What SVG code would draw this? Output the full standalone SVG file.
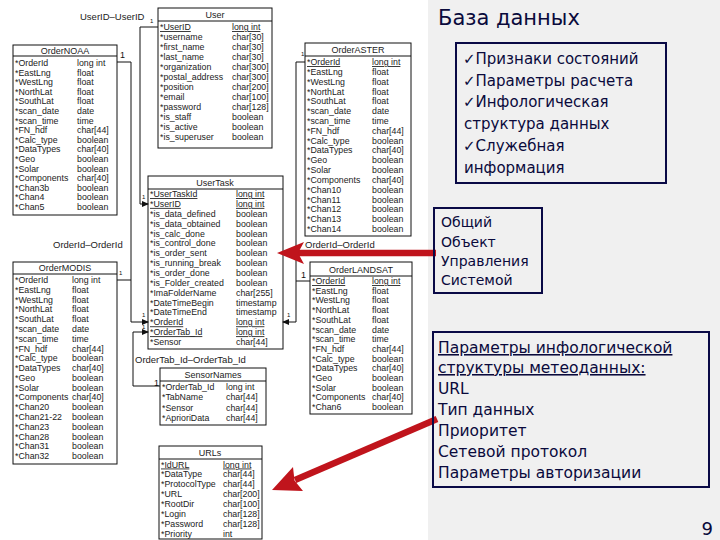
<svg xmlns="http://www.w3.org/2000/svg" width="720" height="540" viewBox="0 0 720 540">
<style>
.tb{fill:#fff;stroke:#111;stroke-width:1}
.ln{stroke:#111;stroke-width:1}
.t{font-family:"Liberation Sans",Arial,sans-serif;font-size:8.8px;fill:#222}
.h{font-family:"Liberation Sans",Arial,sans-serif;font-size:9px;fill:#222;text-anchor:middle}
.u{text-decoration:underline}
.lbl{font-family:"Liberation Sans",Arial,sans-serif;font-size:9.5px;fill:#222}
.one{font-family:"Liberation Sans",Arial,sans-serif;font-size:9px;fill:#111}
.sm{font-family:"Liberation Sans",Arial,sans-serif;font-size:6px;fill:#111}
.con{fill:none;stroke:#111;stroke-width:1}
.rt{font-family:"DejaVu Sans","Noto Sans",sans-serif;fill:#0a0a3c}
.bx{fill:none;stroke:#0a0a46;stroke-width:2}
.red{stroke:#c0141c;stroke-width:6.5;fill:none}
.redh{fill:#c0141c}
</style>
<defs>
<marker id="ah" markerWidth="7" markerHeight="6" refX="6" refY="3" orient="auto" markerUnits="userSpaceOnUse">
<path d="M0,0 L7,3 L0,6 Z" fill="#111"/>
</marker>
</defs>
<rect x="0" y="0" width="720" height="540" fill="#fff"/>
<rect x="428" y="0" width="292" height="540" fill="#f0f0f0"/>

<!-- User -->
<g id="User">
<rect class="tb" x="158" y="8" width="114" height="140"/>
<line class="ln" x1="158" y1="21" x2="272" y2="21"/>
<text class="h" x="215" y="18">User</text>
<g class="t">
<text x="160" y="30" class="u">*UserID</text><text x="232" y="30" class="u">long int</text>
<text x="160" y="40">*username</text><text x="232" y="40">char[30]</text>
<text x="160" y="50">*first_name</text><text x="232" y="50">char[30]</text>
<text x="160" y="60">*last_name</text><text x="232" y="60">char[30]</text>
<text x="160" y="70">*organization</text><text x="232" y="70">char[300]</text>
<text x="160" y="80">*postal_address</text><text x="232" y="80">char[300]</text>
<text x="160" y="90">*position</text><text x="232" y="90">char[200]</text>
<text x="160" y="100">*email</text><text x="232" y="100">char[100]</text>
<text x="160" y="110">*password</text><text x="232" y="110">char[128]</text>
<text x="160" y="120">*is_staff</text><text x="232" y="120">boolean</text>
<text x="160" y="130">*is_active</text><text x="232" y="130">boolean</text>
<text x="160" y="140">*is_superuser</text><text x="232" y="140">boolean</text>
</g>
</g>

<!-- OrderNOAA -->
<g id="OrderNOAA">
<rect class="tb" x="13" y="45" width="104" height="170"/>
<line class="ln" x1="13" y1="56" x2="117" y2="56"/>
<text class="h" x="65" y="54">OrderNOAA</text>
<g class="t">
<text x="15" y="66">*OrderId</text><text x="77" y="66">long int</text>
<text x="15" y="75.6">*EastLng</text><text x="77" y="75.6">float</text>
<text x="15" y="85.2">*WestLng</text><text x="77" y="85.2">float</text>
<text x="15" y="94.8">*NorthLat</text><text x="77" y="94.8">float</text>
<text x="15" y="104.4">*SouthLat</text><text x="77" y="104.4">float</text>
<text x="15" y="114">*scan_date</text><text x="77" y="114">date</text>
<text x="15" y="123.6">*scan_time</text><text x="77" y="123.6">time</text>
<text x="15" y="133.2">*FN_hdf</text><text x="77" y="133.2">char[44]</text>
<text x="15" y="142.8">*Calc_type</text><text x="77" y="142.8">boolean</text>
<text x="15" y="152.4">*DataTypes</text><text x="77" y="152.4">char[40]</text>
<text x="15" y="162">*Geo</text><text x="77" y="162">boolean</text>
<text x="15" y="171.6">*Solar</text><text x="77" y="171.6">boolean</text>
<text x="15" y="181.2">*Components</text><text x="77" y="181.2">char[40]</text>
<text x="15" y="190.8">*Chan3b</text><text x="77" y="190.8">boolean</text>
<text x="15" y="200.4">*Chan4</text><text x="77" y="200.4">boolean</text>
<text x="15" y="210">*Chan5</text><text x="77" y="210">boolean</text>
</g>
</g>

<!-- OrderASTER -->
<g id="OrderASTER">
<rect class="tb" x="305" y="43" width="106" height="193"/>
<line class="ln" x1="305" y1="56" x2="411" y2="56"/>
<text class="h" x="358" y="53">OrderASTER</text>
<g class="t">
<text x="307" y="65" class="u">*OrderId</text><text x="372" y="65" class="u">long int</text>
<text x="307" y="74.8">*EastLng</text><text x="372" y="74.8">float</text>
<text x="307" y="84.6">*WestLng</text><text x="372" y="84.6">float</text>
<text x="307" y="94.5">*NorthLat</text><text x="372" y="94.5">float</text>
<text x="307" y="104.3">*SouthLat</text><text x="372" y="104.3">float</text>
<text x="307" y="114.1">*scan_date</text><text x="372" y="114.1">date</text>
<text x="307" y="123.9">*scan_time</text><text x="372" y="123.9">time</text>
<text x="307" y="133.7">*FN_hdf</text><text x="372" y="133.7">char[44]</text>
<text x="307" y="143.6">*Calc_type</text><text x="372" y="143.6">boolean</text>
<text x="307" y="153.4">*DataTypes</text><text x="372" y="153.4">char[40]</text>
<text x="307" y="163.2">*Geo</text><text x="372" y="163.2">boolean</text>
<text x="307" y="173">*Solar</text><text x="372" y="173">boolean</text>
<text x="307" y="182.8">*Components</text><text x="372" y="182.8">char[40]</text>
<text x="307" y="192.7">*Chan10</text><text x="372" y="192.7">boolean</text>
<text x="307" y="202.5">*Chan11</text><text x="372" y="202.5">boolean</text>
<text x="307" y="212.3">*Chan12</text><text x="372" y="212.3">boolean</text>
<text x="307" y="222.1">*Chan13</text><text x="372" y="222.1">boolean</text>
<text x="307" y="232">*Chan14</text><text x="372" y="232">boolean</text>
</g>
</g>

<!-- UserTask -->
<g id="UserTask">
<rect class="tb" x="148" y="176" width="135" height="173"/>
<line class="ln" x1="148" y1="189" x2="283" y2="189"/>
<text class="h" x="215" y="186">UserTask</text>
<g class="t">
<text x="150" y="197" class="u">*UserTaskId</text><text x="236" y="197" class="u">long int</text>
<text x="150" y="206.9" class="u">*UserID</text><text x="236" y="206.9" class="u">long int</text>
<text x="150" y="216.7">*is_data_defined</text><text x="236" y="216.7">boolean</text>
<text x="150" y="226.6">*is_data_obtained</text><text x="236" y="226.6">boolean</text>
<text x="150" y="236.5">*is_calc_done</text><text x="236" y="236.5">boolean</text>
<text x="150" y="246.4">*is_control_done</text><text x="236" y="246.4">boolean</text>
<text x="150" y="256.2">*is_order_sent</text><text x="236" y="256.2">boolean</text>
<text x="150" y="266.1">*is_running_break</text><text x="236" y="266.1">boolean</text>
<text x="150" y="276">*is_order_done</text><text x="236" y="276">boolean</text>
<text x="150" y="285.8">*is_Folder_created</text><text x="236" y="285.8">boolean</text>
<text x="150" y="295.7">*ImaFolderName</text><text x="236" y="295.7">char[255]</text>
<text x="150" y="305.6">*DateTimeBegin</text><text x="236" y="305.6">timestamp</text>
<text x="150" y="315.4">*DateTimeEnd</text><text x="236" y="315.4">timestamp</text>
<text x="150" y="325.3" class="u">*OrderId</text><text x="236" y="325.3" class="u">long int</text>
<text x="150" y="335.2" class="u">*OrderTab_Id</text><text x="236" y="335.2" class="u">long int</text>
<text x="150" y="345">*Sensor</text><text x="236" y="345">char[44]</text>
</g>
</g>

<!-- OrderMODIS -->
<g id="OrderMODIS">
<rect class="tb" x="13" y="262" width="104" height="202"/>
<line class="ln" x1="13" y1="274" x2="117" y2="274"/>
<text class="h" x="65" y="271">OrderMODIS</text>
<g class="t">
<text x="15" y="283">*OrderId</text><text x="72" y="283">long int</text>
<text x="15" y="292.8">*EastLng</text><text x="72" y="292.8">float</text>
<text x="15" y="302.6">*WestLng</text><text x="72" y="302.6">float</text>
<text x="15" y="312.3">*NorthLat</text><text x="72" y="312.3">float</text>
<text x="15" y="322.1">*SouthLat</text><text x="72" y="322.1">float</text>
<text x="15" y="331.9">*scan_date</text><text x="72" y="331.9">date</text>
<text x="15" y="341.7">*scan_time</text><text x="72" y="341.7">time</text>
<text x="15" y="351.5">*FN_hdf</text><text x="72" y="351.5">char[44]</text>
<text x="15" y="361.2">*Calc_type</text><text x="72" y="361.2">boolean</text>
<text x="15" y="371">*DataTypes</text><text x="72" y="371">char[40]</text>
<text x="15" y="380.8">*Geo</text><text x="72" y="380.8">boolean</text>
<text x="15" y="390.6">*Solar</text><text x="72" y="390.6">boolean</text>
<text x="15" y="400.4">*Components</text><text x="72" y="400.4">char[40]</text>
<text x="15" y="410.1">*Chan20</text><text x="72" y="410.1">boolean</text>
<text x="15" y="419.9">*Chan21-22</text><text x="72" y="419.9">boolean</text>
<text x="15" y="429.7">*Chan23</text><text x="72" y="429.7">boolean</text>
<text x="15" y="439.5">*Chan28</text><text x="72" y="439.5">boolean</text>
<text x="15" y="449.3">*Chan31</text><text x="72" y="449.3">boolean</text>
<text x="15" y="459">*Chan32</text><text x="72" y="459">boolean</text>
</g>
</g>

<!-- OrderLANDSAT -->
<g id="OrderLANDSAT">
<rect class="tb" x="310" y="262" width="102" height="152"/>
<line class="ln" x1="310" y1="276" x2="412" y2="276"/>
<text class="h" x="361" y="273">OrderLANDSAT</text>
<g class="t">
<text x="312" y="284" class="u">*OrderId</text><text x="372" y="284" class="u">long int</text>
<text x="312" y="293.7">*EastLng</text><text x="372" y="293.7">float</text>
<text x="312" y="303.4">*WestLng</text><text x="372" y="303.4">float</text>
<text x="312" y="313.1">*NorthLat</text><text x="372" y="313.1">float</text>
<text x="312" y="322.8">*SouthLat</text><text x="372" y="322.8">float</text>
<text x="312" y="332.5">*scan_date</text><text x="372" y="332.5">date</text>
<text x="312" y="342.2">*scan_time</text><text x="372" y="342.2">time</text>
<text x="312" y="351.9">*FN_hdf</text><text x="372" y="351.9">char[44]</text>
<text x="312" y="361.6">*Calc_type</text><text x="372" y="361.6">boolean</text>
<text x="312" y="371.3">*DataTypes</text><text x="372" y="371.3">char[40]</text>
<text x="312" y="381">*Geo</text><text x="372" y="381">boolean</text>
<text x="312" y="390.7">*Solar</text><text x="372" y="390.7">boolean</text>
<text x="312" y="400.4">*Components</text><text x="372" y="400.4">char[40]</text>
<text x="312" y="410.1">*Chan6</text><text x="372" y="410.1">boolean</text>
</g>
</g>

<!-- SensorNames -->
<g id="SensorNames">
<rect class="tb" x="160" y="368" width="106" height="57"/>
<line class="ln" x1="160" y1="381" x2="266" y2="381"/>
<text class="h" x="213" y="378">SensorNames</text>
<g class="t">
<text x="162" y="390">*OrderTab_Id</text><text x="226" y="390">long int</text>
<text x="162" y="400.3">*TabName</text><text x="226" y="400.3">char[44]</text>
<text x="162" y="410.6">*Sensor</text><text x="226" y="410.6">char[44]</text>
<text x="162" y="420.9">*AprioriData</text><text x="226" y="420.9">char[44]</text>
</g>
</g>

<!-- URLs -->
<g id="URLs">
<rect class="tb" x="159" y="446" width="103" height="93"/>
<line class="ln" x1="159" y1="459" x2="262" y2="459"/>
<text class="h" x="210" y="456">URLs</text>
<g class="t">
<text x="161" y="467.5" class="u">*IdURL</text><text x="223" y="467.5" class="u">long int</text>
<text x="161" y="477.4">*DataType</text><text x="223" y="477.4">char[44]</text>
<text x="161" y="487.3">*ProtocolType</text><text x="223" y="487.3">char[44]</text>
<text x="161" y="497.2">*URL</text><text x="223" y="497.2">char[200]</text>
<text x="161" y="507.1">*RootDir</text><text x="223" y="507.1">char[100]</text>
<text x="161" y="517">*Login</text><text x="223" y="517">char[128]</text>
<text x="161" y="526.9">*Password</text><text x="223" y="526.9">char[128]</text>
<text x="161" y="536.8">*Priority</text><text x="223" y="536.8">int</text>
</g>
</g>

<!-- connectors -->
<g id="connectors">
<polyline class="con" points="158,27 140,27 140,204 148,204" marker-end="url(#ah)"/>
<polyline class="con" points="117,62 131,62 131,322 148,322" marker-end="url(#ah)"/>
<polyline class="con" points="117,280 131,280"/>
<polyline class="con" points="160,386 133,386 133,332 148,332" marker-end="url(#ah)"/>
<polyline class="con" points="305,62 296,62 296,322 283,322" marker-end="url(#ah)"/>
<polyline class="con" points="310,281 296,281"/>
<text class="lbl" x="80" y="20">UserID–UserID</text>
<text class="sm" x="150" y="23">1</text>
<text class="one" x="120" y="58">1</text>
<text class="sm" x="142" y="199">1</text>
<text class="lbl" x="53" y="248">OrderId–OrderId</text>
<text class="sm" x="119" y="275">1</text>
<text class="sm" x="142" y="317">1</text>
<text class="sm" x="142" y="329">1</text>
<text class="lbl" x="135" y="363">OrderTab_Id–OrderTab_Id</text>
<text class="one" x="154" y="386">1</text>
<text class="sm" x="301" y="56">1</text>
<text class="lbl" x="305" y="248">OrderId–OrderId</text>
<text class="one" x="301" y="278">1</text>
<text class="sm" x="287" y="317">1</text>
</g>

<!-- red arrows -->
<g id="red-arrows">
<line class="red" x1="436" y1="253" x2="298" y2="253"/>
<polygon class="redh" points="277,253 304,242 298,253 304,264"/>
<line class="red" x1="437" y1="419" x2="295" y2="480"/>
<polygon class="redh" points="272,490 293,467 294.5,480.5 303,491"/>
</g>

<!-- right panel -->
<g id="title">
<text class="rt" x="438" y="25" font-size="21">База данных</text>
</g>
<g id="box-status">
<rect class="bx" x="456" y="43" width="210" height="140"/>
<g class="rt" font-size="15">
<text x="463" y="64">✓Признаки состояний</text>
<text x="463" y="86">✓Параметры расчета</text>
<text x="463" y="107">✓Инфологическая</text>
<text x="464" y="129">структура данных</text>
<text x="463" y="151">✓Служебная</text>
<text x="464" y="173">информация</text>
</g>
</g>
<g id="box-object">
<rect class="bx" x="434" y="208" width="108" height="85"/>
<g class="rt" font-size="14">
<text x="441" y="227">Общий</text>
<text x="441" y="247">Объект</text>
<text x="441" y="266">Управления</text>
<text x="441" y="285">Системой</text>
</g>
</g>
<g id="box-params">
<rect class="bx" x="433" y="332" width="276" height="155"/>
<g class="rt" font-size="15.5">
<text x="438" y="353" text-decoration="underline">Параметры инфологической</text>
<text x="438" y="373" text-decoration="underline">структуры метеоданных:</text>
<text x="438" y="394">URL</text>
<text x="438" y="415">Тип данных</text>
<text x="438" y="436">Приоритет</text>
<text x="438" y="457">Сетевой протокол</text>
<text x="438" y="478">Параметры авторизации</text>
</g>
</g>
<text class="rt" x="713" y="535" font-size="18" text-anchor="end">9</text>
</svg>
